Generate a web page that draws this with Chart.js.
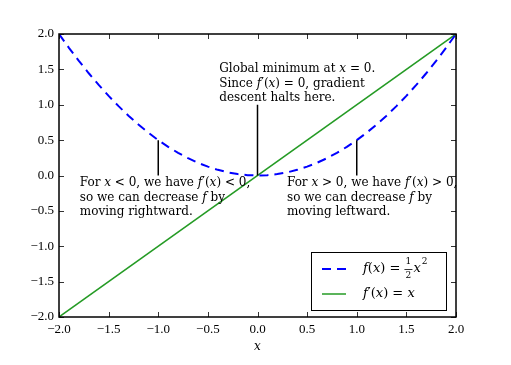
<!DOCTYPE html>
<html>
<head>
<meta charset="UTF-8">
<title>Gradient descent</title>
<style>
  html, body { margin: 0; padding: 0; background: #fff; }
  #wrap { width: 511px; height: 365px; }
</style>
</head>
<body>
<div id="wrap"><canvas id="chart"></canvas></div>
<script src="https://cdn.jsdelivr.net/npm/chart.js@4.4.1/dist/chart.umd.min.js"></script>
<script>
// x samples and f(x) = x^2 / 2
const xs = [-2.0, -1.9, -1.8, -1.7, -1.6, -1.5, -1.4, -1.3, -1.2, -1.1, -1.0,
            -0.9, -0.8, -0.7, -0.6, -0.5, -0.4, -0.3, -0.2, -0.1, 0.0,
            0.1, 0.2, 0.3, 0.4, 0.5, 0.6, 0.7, 0.8, 0.9, 1.0,
            1.1, 1.2, 1.3, 1.4, 1.5, 1.6, 1.7, 1.8, 1.9, 2.0];
const fx = [2.0, 1.805, 1.62, 1.445, 1.28, 1.125, 0.98, 0.845, 0.72, 0.605, 0.5,
            0.405, 0.32, 0.245, 0.18, 0.125, 0.08, 0.045, 0.02, 0.005, 0.0,
            0.005, 0.02, 0.045, 0.08, 0.125, 0.18, 0.245, 0.32, 0.405, 0.5,
            0.605, 0.72, 0.845, 0.98, 1.125, 1.28, 1.445, 1.62, 1.805, 2.0];
// f'(x) = x, a straight line
const dX = [-2.0, 2.0];
const dY = [-2.0, 2.0];

const tickVals = [-2.0, -1.5, -1.0, -0.5, 0.0, 0.5, 1.0, 1.5, 2.0];

// annotation arrows: x, tip y, tail y
const arrowX = [-1.0, 0.0, 1.0];
const arrowTip = [0.5, 0.0, 0.5];
const arrowTail = [0.0, 1.0, 0.0];

const SERIF = '"Liberation Serif", "DejaVu Serif", serif';
const NOTE = '"DejaVu Serif", serif';
const FS = 13;
const BLUE = '#0000ff';
const GREEN = '#259b25';

function fmt(v) {
  const s = Math.abs(v).toFixed(1);
  return v < 0 ? '\u2212' + s : s;
}

// draw a line of mixed roman / italic text
function rich(ctx, segs, x, y, size) {
  let cx = x;
  segs.forEach(s => {
    ctx.font = (s[1] ? 'italic ' : '') + size + 'px ' + NOTE;
    ctx.fillText(s[0], cx, y);
    cx += ctx.measureText(s[0]).width;
  });
  return cx;
}

const notes = [
  { x: -0.385, y: 1.505, lines: [
    [['Global minimum at '], ['x', 1], [' = 0.']],
    [['Since '], ['f', 1], ['\u2032('], ['x', 1], [') = 0, gradient']],
    [['descent halts here.']]
  ]},
  { x: -1.79, y: -0.106, lines: [
    [['For '], ['x', 1], [' < 0, we have '], ['f', 1], ['\u2032('], ['x', 1], [') < 0,']],
    [['so we can decrease '], ['f', 1], [' by']],
    [['moving rightward.']]
  ]},
  { x: 0.297, y: -0.106, lines: [
    [['For '], ['x', 1], [' > 0, we have '], ['f', 1], ['\u2032('], ['x', 1], [') > 0,']],
    [['so we can decrease '], ['f', 1], [' by']],
    [['moving leftward.']]
  ]}
];

const decor = {
  id: 'decor',
  afterDatasetsDraw(chart) {
    const ctx = chart.ctx;
    const a = chart.chartArea;
    const sx = chart.scales.x, sy = chart.scales.y;
    ctx.save();

    // arrows
    ctx.strokeStyle = '#000';
    ctx.lineWidth = 1.5;
    arrowX.forEach((v, i) => {
      const px = sx.getPixelForValue(v);
      ctx.beginPath();
      ctx.moveTo(px, sy.getPixelForValue(arrowTail[i]));
      ctx.lineTo(px, sy.getPixelForValue(arrowTip[i]));
      ctx.stroke();
    });

    // notes
    ctx.fillStyle = '#000';
    ctx.textBaseline = 'middle';
    ctx.textAlign = 'left';
    notes.forEach(n => {
      const px = sx.getPixelForValue(n.x);
      const py = sy.getPixelForValue(n.y);
      n.lines.forEach((ln, i) => rich(ctx, ln, px, py + i * 14.5, 12));
    });

    // inward ticks and frame
    ctx.lineWidth = 1;
    ctx.strokeStyle = '#333';
    ctx.beginPath();
    tickVals.forEach(v => {
      const px = Math.round(sx.getPixelForValue(v)) + 0.5;
      ctx.moveTo(px, a.bottom); ctx.lineTo(px, a.bottom - 5);
      ctx.moveTo(px, a.top); ctx.lineTo(px, a.top + 5);
      const py = Math.round(sy.getPixelForValue(v)) + 0.5;
      ctx.moveTo(a.left, py); ctx.lineTo(a.left + 5, py);
      ctx.moveTo(a.right, py); ctx.lineTo(a.right - 5, py);
    });
    ctx.stroke();
    ctx.lineWidth = 1.5;
    ctx.strokeStyle = '#000';
    ctx.strokeRect(a.left, a.top, a.right - a.left, a.bottom - a.top);

    // x axis label
    ctx.textAlign = 'center';
    ctx.font = 'italic 12px ' + NOTE;
    ctx.fillText('x', (a.left + a.right) / 2, 347);

    // legend
    const lx = 311, ly = 252, lw = 135, lh = 58;
    ctx.fillStyle = '#fff';
    ctx.fillRect(lx, ly, lw, lh);
    ctx.strokeStyle = '#000';
    ctx.lineWidth = 1;
    ctx.strokeRect(lx + 0.5, ly + 0.5, lw, lh);

    ctx.lineWidth = 2;
    ctx.strokeStyle = BLUE;
    ctx.setLineDash([9, 6]);
    ctx.beginPath(); ctx.moveTo(322, 269); ctx.lineTo(346, 269); ctx.stroke();
    ctx.setLineDash([]);
    ctx.lineWidth = 1.5;
    ctx.strokeStyle = GREEN;
    ctx.beginPath(); ctx.moveTo(322, 294); ctx.lineTo(346, 294); ctx.stroke();

    ctx.fillStyle = '#000';
    ctx.textAlign = 'left';
    let ex = rich(ctx, [['f', 1], ['('], ['x', 1], [') = ']], 363, 269, 13);
    ctx.font = '9px ' + NOTE;
    ctx.textAlign = 'center';
    ctx.fillText('1', ex + 4, 262);
    ctx.fillText('2', ex + 4, 276);
    ctx.lineWidth = 0.8;
    ctx.strokeStyle = '#000';
    ctx.beginPath(); ctx.moveTo(ex, 269.5); ctx.lineTo(ex + 8, 269.5); ctx.stroke();
    ctx.textAlign = 'left';
    ex = rich(ctx, [['x', 1]], ex + 9, 269, 13);
    ctx.font = '9px ' + NOTE;
    ctx.fillText('2', ex + 1, 262);
    rich(ctx, [['f', 1], ['\u2032('], ['x', 1], [') = '], ['x', 1]], 363, 294, 13);

    ctx.restore();
  }
};

new Chart(document.getElementById('chart'), {
  type: 'line',
  data: {
    datasets: [
      {
        label: 'f(x)',
        data: xs.map((v, i) => ({ x: v, y: fx[i] })),
        borderColor: BLUE,
        borderWidth: 2,
        borderDash: [9, 6],
        pointRadius: 0,
        fill: false,
        tension: 0
      },
      {
        label: "f'(x)",
        data: dX.map((v, i) => ({ x: v, y: dY[i] })),
        borderColor: GREEN,
        borderWidth: 1.5,
        pointRadius: 0,
        fill: false
      }
    ]
  },
  options: {
    responsive: true,
    maintainAspectRatio: false,
    animation: false,
    layout: { padding: { left: 0, right: 55, top: 34, bottom: 0 } },
    plugins: { legend: { display: false }, tooltip: { enabled: false } },
    scales: {
      x: {
        type: 'linear',
        min: -2, max: 2,
        afterFit: s => { s.height = 48; },
        afterBuildTicks: s => { s.ticks = tickVals.map(v => ({ value: v })); },
        grid: { display: false, drawTicks: false },
        border: { display: false },
        ticks: { color: '#000', padding: 5, maxRotation: 0, font: { family: SERIF, size: FS }, callback: v => fmt(v) }
      },
      y: {
        type: 'linear',
        min: -2, max: 2,
        afterFit: s => { s.width = 59; },
        afterBuildTicks: s => { s.ticks = tickVals.map(v => ({ value: v })); },
        grid: { display: false, drawTicks: false },
        border: { display: false },
        ticks: { color: '#000', padding: 5, font: { family: SERIF, size: FS }, callback: v => fmt(v) }
      }
    }
  },
  plugins: [decor]
});
</script>
</body>
</html>
